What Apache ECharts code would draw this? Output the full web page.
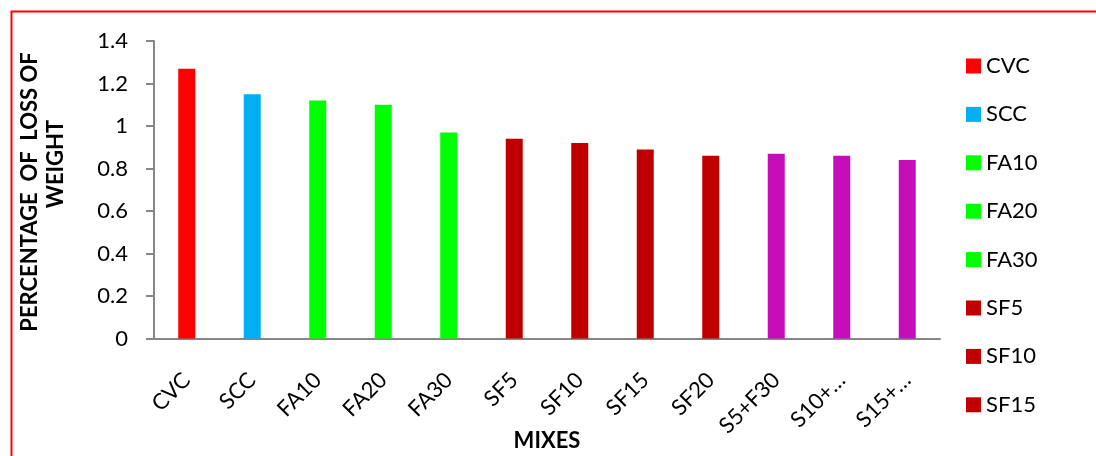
<!DOCTYPE html>
<html>
<head>
<meta charset="utf-8">
<script src="https://cdn.jsdelivr.net/npm/echarts@6/dist/echarts.min.js"></script>
<style>
  html, body { margin: 0; padding: 0; background: #fff; }
  #chart { width: 1096px; height: 456px; }
</style>
</head>
<body>
<div id="chart"></div>
<script>
// Mix designations along the x axis
const categories = ['CVC', 'SCC', 'FA10', 'FA20', 'FA30', 'SF5', 'SF10', 'SF15', 'SF20', 'S5+F30', 'S10+\u2026', 'S15+\u2026'];
// Percentage of loss of weight for each mix
const lossValues = [1.27, 1.15, 1.12, 1.10, 0.97, 0.94, 0.92, 0.89, 0.86, 0.87, 0.86, 0.84];
// Bar colour per mix
const barColors = ['#FF0000', '#00B0F0', '#00FF00', '#00FF00', '#00FF00', '#C00000', '#C00000', '#C00000', '#C00000', '#C70CB9', '#C70CB9', '#C70CB9'];
// Entries shown in the legend
const legendNames = ['CVC', 'SCC', 'FA10', 'FA20', 'FA30', 'SF5', 'SF10', 'SF15'];
// Y axis ticks
const yTicks = { min: 0, max: 1.4, interval: 0.2 };

const FONT = 'Lato, "Open Sans", sans-serif';
const AXIS_GRAY = '#868686';

// One series per mix, all in the same stack so each bar sits centred on its category
const series = categories.map((name, i) => ({
  name: name,
  type: 'bar',
  stack: 'mix',
  barWidth: 17,
  itemStyle: { color: barColors[i] },
  data: categories.map((_, j) => (j === i ? lossValues[i] : null))
}));

const chart = echarts.init(document.getElementById('chart'), null, { renderer: 'canvas' });
chart.setOption({
  backgroundColor: '#ffffff',
  animation: false,
  grid: { left: 154, right: 156, top: 41, bottom: 117.5, containLabel: false, outerBoundsMode: 'none' },
  legend: {
    data: legendNames,
    orient: 'vertical',
    left: 966,
    top: 55,
    padding: 0,
    icon: 'rect',
    itemWidth: 15,
    itemHeight: 15,
    itemGap: 26.4,
    selectedMode: false,
    textStyle: { fontFamily: FONT, fontSize: 22, color: '#000', lineHeight: 22 }
  },
  xAxis: {
    type: 'category',
    data: categories,
    name: 'MIXES',
    nameLocation: 'middle',
    nameGap: 91,
    nameMoveOverlap: false,
    nameTextStyle: { fontFamily: FONT, fontSize: 22, fontWeight: 'bold', color: '#000' },
    axisLine: { show: true, lineStyle: { color: AXIS_GRAY, width: 2 } },
    axisTick: { show: false },
    axisLabel: {
      rotate: 45,
      margin: 38,
      interval: 0,
      fontFamily: FONT,
      fontSize: 22,
      color: '#000'
    },
    splitLine: { show: false }
  },
  yAxis: {
    type: 'value',
    min: yTicks.min,
    max: yTicks.max,
    interval: yTicks.interval,
    axisLine: { show: true, lineStyle: { color: AXIS_GRAY, width: 2 } },
    axisTick: { show: true, length: 8, lineStyle: { color: AXIS_GRAY, width: 2 } },
    axisLabel: {
      margin: 26,
      fontFamily: FONT,
      fontSize: 22,
      color: '#000',
      formatter: v => String(Math.round(v * 10) / 10)
    },
    splitLine: { show: false }
  },
  graphic: [
    {
      type: 'rect',
      left: 9, top: 9,
      shape: { width: 1100, height: 460 },
      style: { fill: 'none', stroke: '#FF0000', lineWidth: 2 },
      silent: true
    },
    {
      type: 'text',
      x: 30, y: 192,
      rotation: Math.PI / 2,
      style: {
        text: 'PERCENTAGE  OF  LOSS OF',
        font: 'bold 22px ' + FONT,
        fill: '#000',
        align: 'center',
        verticalAlign: 'middle'
      },
      silent: true
    },
    {
      type: 'text',
      x: 56, y: 164,
      rotation: Math.PI / 2,
      style: {
        text: 'WEIGHT',
        font: 'bold 22px ' + FONT,
        fill: '#000',
        align: 'center',
        verticalAlign: 'middle'
      },
      silent: true
    }
  ],
  series: series
});
</script>
</body>
</html>
